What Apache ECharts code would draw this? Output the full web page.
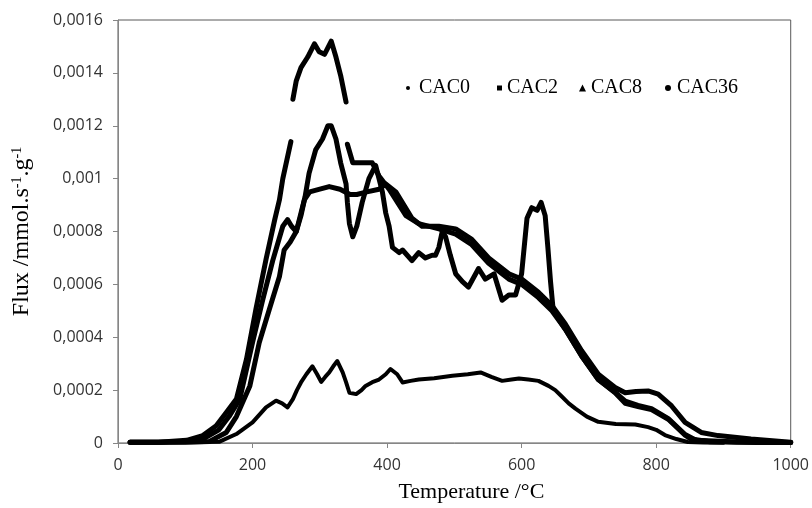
<!DOCTYPE html>
<html>
<head>
<meta charset="utf-8">
<script src="https://cdn.jsdelivr.net/npm/echarts@6/dist/echarts.min.js"></script>
<style>html,body{margin:0;padding:0;background:#fff}#c{width:812px;height:508px}</style>
</head>
<body>
<div id="c"></div>
<script>
// Temperature (°C) and flux (mmol.s-1.g-1); null = gap in the record
const cac0T = [18,60,100,130,151,176,200,220,235,244,252,260,266,272,280,289,296,302,308,314,320,326,334,339,344,354,362,368,378,388,398,405,415,423,435,447,470,497,520,539,555,571,585,596,610,625,640,650,659,670,680,697,714,740,769,788,800,813,830,847,870,900];
const cac0F = [0.000003,0.000003,0.000003,0.000004,0.000005,0.000034,0.000078,0.000135,0.00016,0.00015,0.000135,0.000166,0.0002,0.000229,0.00026,0.00029,0.00026,0.000231,0.00025,0.000267,0.00029,0.00031,0.000267,0.00023,0.00019,0.000185,0.0002,0.000216,0.00023,0.00024,0.00026,0.00028,0.00026,0.000229,0.000235,0.00024,0.000245,0.000254,0.00026,0.000267,0.00025,0.000235,0.00024,0.000244,0.00024,0.000235,0.000216,0.0002,0.000178,0.00015,0.00013,0.0001,0.00008,0.000072,0.00007,0.00006,0.00005,0.00003,0.000015,0.000004,0.000002,0.000001];

const cac2T = [18,60,100,136,161,176,196,210,225,240,247,256,265,272,278,284,294,304,312,317,324,331,339,341,344,349,355,363,373,383,393,398,403,408,418,423,437,447,457,467,472,477,482,487,494,502,512,521,536,546,559,571,581,591,600,608,615,623,629,635,639,643,647,665,689,714,739,754,773,793,818,843,852,880,950,1000];
const cac2F = [0.000003,0.000003,0.000003,0.000006,0.00004,0.0001,0.000216,0.00038,0.000506,0.00063,0.00073,0.00076,0.0008,0.00086,0.00093,0.00102,0.00111,0.00115,0.0012,0.0012,0.00115,0.00106,0.00098,0.00091,0.00083,0.00078,0.00082,0.00091,0.001,0.00105,0.00095,0.00087,0.00082,0.00074,0.00072,0.00073,0.00069,0.00072,0.0007,0.00071,0.00071,0.00074,0.0008,0.00078,0.00071,0.00064,0.00061,0.00059,0.00066,0.00062,0.00064,0.00054,0.00056,0.00056,0.00064,0.00085,0.00089,0.00088,0.00091,0.00086,0.00074,0.00061,0.0005,0.00043,0.00033,0.00024,0.00019,0.00015,0.000138,0.000126,0.00009,0.00003,0.000015,0.000005,0.000002,0.000002];

const cac8T = [18,60,102,126,146,161,176,191,205,220,233,240,245,257,258,260,265,272,282,292,299,307,317,324,331,339,340,341,349,363,378,388,403,428,447,477,502,526,551,581,600,625,645,665,689,714,740,754,773,793,818,843,860,920,1000];
const cac8F = [0.000003,0.000003,0.00001,0.000028,0.000065,0.000115,0.000166,0.000317,0.000506,0.000694,0.000845,0.00092,0.001,0.00114,null,0.0013,0.00137,0.00142,0.00146,0.00151,0.00148,0.00147,0.00152,0.00146,0.00139,0.00129,null,0.00113,0.00106,0.00106,0.00106,0.00101,0.00096,0.00086,0.00083,0.00081,0.00079,0.00075,0.00068,0.00062,0.0006,0.00055,0.0005,0.00043,0.00033,0.00024,0.00019,0.000158,0.000142,0.00013,0.000092,0.000032,0.00001,0.000004,0.000002];

const cac36T = [18,60,100,130,150,165,181,200,215,230,245,252,258,265,272,277,285,300,314,330,345,355,370,388,398,413,437,452,477,502,526,551,581,600,625,645,665,689,714,739,754,770,788,803,823,843,867,892,941,1000];
const cac36F = [0.000003,0.000003,0.000006,0.00002,0.00005,0.0001,0.000166,0.00038,0.00054,0.00069,0.00082,0.000845,0.00082,0.0008,0.00087,0.00092,0.00095,0.00096,0.00097,0.00096,0.00094,0.00094,0.00095,0.00096,0.00098,0.00095,0.00085,0.00082,0.00082,0.00081,0.00077,0.0007,0.00064,0.00062,0.00057,0.00052,0.00045,0.00035,0.00026,0.00021,0.00019,0.000195,0.000197,0.000185,0.00014,0.000078,0.00004,0.000028,0.000015,0.000003];

const xTicks = [0,200,400,600,800,1000];
const yTicks = [0,0.0002,0.0004,0.0006,0.0008,0.001,0.0012,0.0014,0.0016];

function pairs(T, F){ return T.map((t,i)=> F[i]===null ? [t,'-'] : [t, F[i]]); }

const chart = echarts.init(document.getElementById('c'), null, {renderer:'canvas'});
const legendBase = {
  orient:'horizontal', top:73, itemGap:0,
  textStyle:{fontFamily:'Liberation Serif', fontSize:20, color:'#000'},
  itemStyle:{color:'#000', borderWidth:0},
  lineStyle:{width:0, opacity:0}
};
function mkSeries(name, T, F, w){
  return {name, type:'line', data:pairs(T,F), showSymbol:false, symbol:'none',
    connectNulls:false, smooth:false, animation:false,
    lineStyle:{color:'#000', width:w, join:'round', cap:'round'},
    itemStyle:{color:'#000'}};
}
chart.setOption({
  animation:false,
  backgroundColor:'#fff',
  grid:{left:118, right:19, top:20, bottom:64, show:true, borderColor:'#595959', borderWidth:1},
  legend:[
    Object.assign({}, legendBase, {data:[{name:'CAC0', icon:'circle'}], left:401, itemWidth:12, itemHeight:4}),
    Object.assign({}, legendBase, {data:[{name:'CAC2', icon:'rect'}], left:492, itemWidth:5, itemHeight:5}),
    Object.assign({}, legendBase, {data:[{name:'CAC8', icon:'triangle'}], left:574, itemWidth:7, itemHeight:7}),
    Object.assign({}, legendBase, {data:[{name:'CAC36', icon:'circle'}], left:660, itemWidth:8, itemHeight:6})
  ],
  xAxis:{
    type:'value', min:0, max:1000, interval:200,
    name:'Temperature /°C', nameLocation:'middle', nameGap:38,
    nameTextStyle:{fontFamily:'Liberation Serif', fontSize:22, color:'#000', padding:[0,0,0,34]},
    axisLine:{show:true, lineStyle:{color:'#868686'}},
    axisTick:{show:true, length:5, lineStyle:{color:'#868686'}},
    axisLabel:{fontFamily:'Open Sans', fontSize:16, color:'#333', margin:14, formatter:function(v){return String(v);}},
    splitLine:{show:false}
  },
  yAxis:{
    type:'value', min:0, max:0.0016, interval:0.0002,
    name:'Flux /mmol.s{sup|-1}.g{sup|-1}', nameLocation:'middle', nameGap:84, nameRotate:90,
    nameTextStyle:{fontFamily:'Liberation Serif', fontSize:24, color:'#000', padding:[0,0,0,0],
      rich:{sup:{fontFamily:'Liberation Serif', fontSize:14, color:'#000', verticalAlign:'top', padding:[0,0,10,0]}}},
    axisLine:{show:true, lineStyle:{color:'#868686'}},
    axisTick:{show:true, length:5, lineStyle:{color:'#868686'}},
    axisLabel:{fontFamily:'Open Sans', fontSize:16, color:'#333', margin:15,
      formatter:function(v){ return v===0 ? '0' : String(parseFloat(v.toFixed(4))).replace('.', ','); }},
    splitLine:{show:false}
  },
  series:[
    mkSeries('CAC0', cac0T, cac0F, 4),
    mkSeries('CAC2', cac2T, cac2F, 5),
    mkSeries('CAC8', cac8T, cac8F, 5),
    mkSeries('CAC36', cac36T, cac36F, 5)
  ]
});
</script>
</body>
</html>
